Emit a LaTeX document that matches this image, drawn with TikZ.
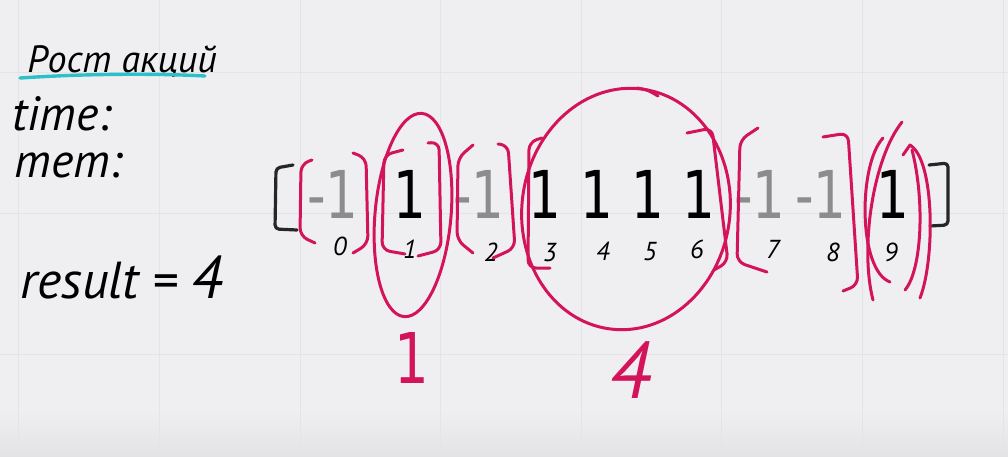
\documentclass[tikz,border=0pt]{standalone}
\usepackage{fontspec}
\newfontfamily\handfont{PT Sans}
\newfontfamily\digitfont{DejaVu Sans}[FakeStretch=0.78]
\usetikzlibrary{calc}
\definecolor{penRed}{HTML}{D4145A}
\definecolor{penCyan}{HTML}{2CC0C8}
\definecolor{penGrey}{HTML}{8C8C8C}
\definecolor{boardBg}{HTML}{EFEFF1}
\definecolor{boardGrid}{HTML}{E4E4E7}
\tikzset{
  redpen/.style   = {draw=penRed, line width=1.5pt, line cap=round, line join=round},
  blackpen/.style = {draw=black!85, line width=1.6pt, line cap=round, line join=round},
  cyanpen/.style  = {draw=penCyan, line width=1.7pt, line cap=round},
  gridline/.style = {draw=boardGrid, line width=0.5pt},
  hand/.style     = {font=\handfont\itshape\fontsize{#1}{#1}\selectfont, inner sep=0pt},
  hand/.default   = 24,
  val/.style      = {font=\digitfont\fontsize{33}{33}\selectfont, inner sep=0pt, anchor=base},
  idx/.style      = {hand=13, anchor=base},
}

\begin{document}
\begin{tikzpicture}[x=0.5pt,y=-0.5pt,
    brk/.style={redpen, rounded corners=4pt}]
  % board
  \useasboundingbox[fill=boardBg] (0,0) rectangle (1008,456);
  \shade[top color=boardBg, bottom color=boardBg!95!black] (0,410) rectangle (1008,456);
  \foreach \gx in {18,159,300,440,581,721,862,1003}
    \draw[gridline] (\gx,0) -- (\gx,456);
  \foreach \gy in {72,213,354}
    \draw[gridline] (0,\gy) -- (1008,\gy);

  % notes on the left
  \node[hand=19, anchor=base west] (title) at (27,72) {Рост акций};
  \draw[cyanpen] (20,78) .. controls (80,74) and (150,73) .. (205,76);
  \node[hand, anchor=base west] (time) at (12,130) {time:};
  \node[hand, anchor=base west] (mem) at (14,177) {mem:};
  \node[hand=26, anchor=base west] (res) at (20,298) {result = {\fontsize{30}{30}\selectfont 4}};

  % array values
  \node[val, penGrey] (v0) at (342,218) {\llap{-}1};
  \node[val] (v1) at (410,218) {1};
  \node[val, penGrey] (v2) at (488,218) {\llap{-}1};
  \node[val] (v3) at (545,218) {1};
  \node[val] (v4) at (597,218) {1};
  \node[val] (v5) at (648,218) {1};
  \node[val] (v6) at (699,218) {1};
  \node[val, penGrey] (v7) at (769,218) {\llap{-}1};
  \node[val, penGrey] (v8) at (830,218) {\llap{-}1};
  \node[val] (v9) at (893,218) {1};

  % indices
  \node[idx] (i0) at (340,255) {0};
  \node[idx] (i1) at (410,258) {1};
  \node[idx] (i2) at (491,261) {2};
  \node[idx] (i3) at (550,261) {3};
  \node[idx] (i4) at (603,260) {4};
  \node[idx] (i5) at (650,260) {5};
  \node[idx] (i6) at (697,258) {6};
  \node[idx] (i7) at (773,258) {7};
  \node[idx] (i8) at (833,261) {8};
  \node[idx] (i9) at (891,261) {9};

  % outer brackets
  \draw[blackpen, rounded corners=2pt] (293,165) -- (276,168) -- (275,229) -- (297,230);
  \draw[blackpen, rounded corners=2pt] (929,165) -- (948,163) -- (948,225) -- (930,226);

  % sub-array brackets
  \draw[brk] (312,160) -- (301,164) -- (300,236) -- (315,243);
  \draw[brk] (353,153) -- (366,158) -- (368,244) -- (353,253);
  \draw[brk] (403,150) -- (384,155) -- (382,250) -- (405,254);
  \draw[brk] (428,143) -- (439,142) -- (441,250) -- (418,256);
  \draw[brk] (473,145) -- (458,158) -- (457,240) -- (473,253);
  \draw[brk] (498,144) -- (508,145) -- (515,248) -- (493,258);
  \draw[brk] (542,138) -- (529,142) -- (528,268) -- (550,268);
  \draw[brk] (687,133) -- (712,128) -- (728,262) -- (714,270);
  \draw[brk] (758,128) -- (740,140) -- (737,262) -- (767,272);
  \draw[brk] (823,137) -- (848,133) -- (858,285) -- (843,291);

  % answer loops
  \draw[redpen, rotate around={-5:(413,215)}] (413,215) ellipse [x radius=38, y radius=102];
  \draw[redpen, rotate around={-8:(626,209)}] (626,209) ellipse [x radius=104, y radius=121];
  \draw[redpen] (637,88) .. controls (648,90) .. (658,96);
  \draw[redpen] (883,138) .. controls (858,165) and (858,270) .. (890,282);
  \draw[redpen] (902,122) .. controls (872,160) and (860,250) .. (873,300);
  \draw[redpen] (903,155) -- (910,145) .. controls (935,160) and (935,260) .. (920,298);
  \draw[redpen] (912,150) .. controls (925,200) and (922,270) .. (905,290);

  % lengths
  \node[val, penRed, font=\digitfont\fontsize{35}{35}\selectfont] (len1) at (412,383) {1};
  \node[hand=40, anchor=base, penRed] (len4) at (630,398) {4};
\end{tikzpicture}
\end{document}
